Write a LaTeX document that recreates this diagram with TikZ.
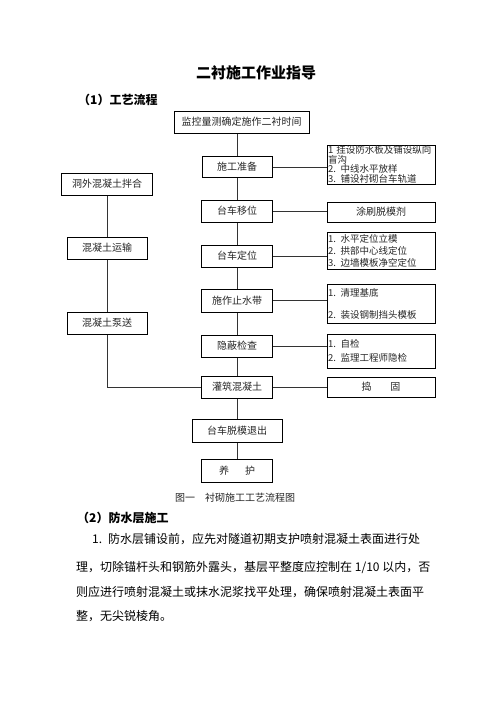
\documentclass[tikz,border=0pt]{standalone}
\usepackage{fontspec}
\setmainfont{Noto Sans CJK SC}
\begin{document}
\begin{tikzpicture}[x=1pt,y=-1pt,
  mbox/.style={draw=black, line width=1pt, inner sep=0pt, minimum width=71pt, minimum height=22pt,
    font=\fontsize{10}{12}\selectfont, text=black!85},
  rbox/.style={draw=black, line width=1pt, inner xsep=1pt, inner ysep=0pt, text width=106pt, align=left,
    font=\fontsize{9.5}{9.5}\selectfont, text=black!85},
  conn/.style={draw=black!80, line width=0.9pt},
  body/.style={anchor=west, inner sep=0pt, font=\fontsize{12}{12}\selectfont},
  head/.style={anchor=west, inner sep=0pt, font=\fontsize{12}{12}\selectfont\bfseries}]
\fill[white] (0,0) rectangle (496,702);
\useasboundingbox (0,0) rectangle (496,702);

% title and headings
\node[inner sep=0pt, font=\fontsize{15}{15}\selectfont\bfseries] (title) at (256,73) {二衬施工作业指导};
\node[head] (h1) at (78,100) {（1）工艺流程};

% middle column
\node[mbox, minimum width=135pt] (top) at (241.5,122) {监控量测确定施作二衬时间};
\node[mbox, minimum width=70pt, minimum height=21pt] (prep) at (237,167) {施工准备};
\node[mbox] (move) at (237,211) {台车移位};
\node[mbox] (pos) at (237,256) {台车定位};
\node[mbox, minimum height=23pt] (stop) at (237,300.5) {施作止水带};
\node[mbox] (insp) at (237,346) {隐蔽检查};
\node[mbox] (pour) at (237,387) {灌筑混凝土};
\node[mbox, minimum width=90pt, minimum height=23pt] (demold) at (237,430.5) {台车脱模退出};
\node[mbox, minimum height=23pt] (cure) at (237,470.5) {养\hspace{16pt}护};

% left column
\node[mbox, minimum width=91pt] (mix) at (107,184) {洞外混凝土拌合};
\node[mbox, minimum width=80pt] (trans) at (107,248) {混凝土运输};
\node[mbox, minimum width=80pt] (pump) at (107,323) {混凝土泵送};

% right column
\node[rbox, minimum height=39pt] (r1) at (381,164.5) {1 挂设防水板及铺设纵向\\盲沟\\2. 中线水平放样\\3. 铺设衬砌台车轨道};
\node[rbox, minimum height=20pt, align=center, font=\fontsize{10}{10}\selectfont] (r2) at (381,212) {涂刷脱模剂};
\node[rbox, minimum height=37pt, font=\fontsize{9.5}{12}\selectfont] (r3) at (381,250.5) {1. 水平定位立模\\2. 拱部中心线定位\\3. 边墙模板净空定位};
\node[rbox, minimum height=39pt, font=\fontsize{9.5}{12}\selectfont] (r4) at (381,303.5) {1. 清理基底\\[10pt]2. 装设钢制挡头模板};
\node[rbox, minimum height=34pt, font=\fontsize{9.5}{14}\selectfont] (r5) at (381,351) {1. 自检\\2. 监理工程师隐检};
\node[rbox, minimum height=20pt, align=center, font=\fontsize{10}{10}\selectfont] (r6) at (381,387) {捣\hspace{19pt}固};

% vertical main connectors
\draw[conn] (top.south -| prep.north) -- (prep.north);
\draw[conn] (prep.south) -- (move.north);
\draw[conn] (move.south) -- (pos.north);
\draw[conn] (pos.south) -- (stop.north);
\draw[conn] (stop.south) -- (insp.north);
\draw[conn] (insp.south) -- (pour.north);
\draw[conn] (pour.south) -- (demold.north);
\draw[conn] (demold.south) -- (cure.north);

% horizontal connectors to right boxes
\draw[conn] (prep.east) -- (prep.east -| r1.west);
\draw[conn] (move.east) -- (move.east -| r2.west);
\draw[conn] (pos.east) -- (pos.east -| r3.west);
\draw[conn] (stop.east) -- (stop.east -| r4.west);
\draw[conn] (insp.east) -- (insp.east -| r5.west);
\draw[conn] (pour.east) -- (pour.east -| r6.west);

% left column connectors
\draw[conn] (mix.south) -- (trans.north);
\draw[conn] (trans.south) -- (pump.north);
\draw[conn] (pump.south) -- (pump.south |- pour.west) -- (pour.west);

% caption
\node[inner sep=0pt, font=\fontsize{10}{10}\selectfont, text=black!85] (cap) at (235,498) {图一　衬砌施工工艺流程图};

% section 2
\node[head] (h2) at (77,518) {（2）防水层施工};
\node[body] (l1) at (92,539) {1.\hspace{6pt}防水层铺设前，应先对隧道初期支护喷射混凝土表面进行处};
\node[body] (l2) at (76,567) {理，切除锚杆头和钢筋外露头，基层平整度应控制在 1/10 以内，否};
\node[body] (l3) at (76,592) {则应进行喷射混凝土或抹水泥浆找平处理，确保喷射混凝土表面平};
\node[body] (l4) at (76,616) {整，无尖锐棱角。};
\end{tikzpicture}
\end{document}
